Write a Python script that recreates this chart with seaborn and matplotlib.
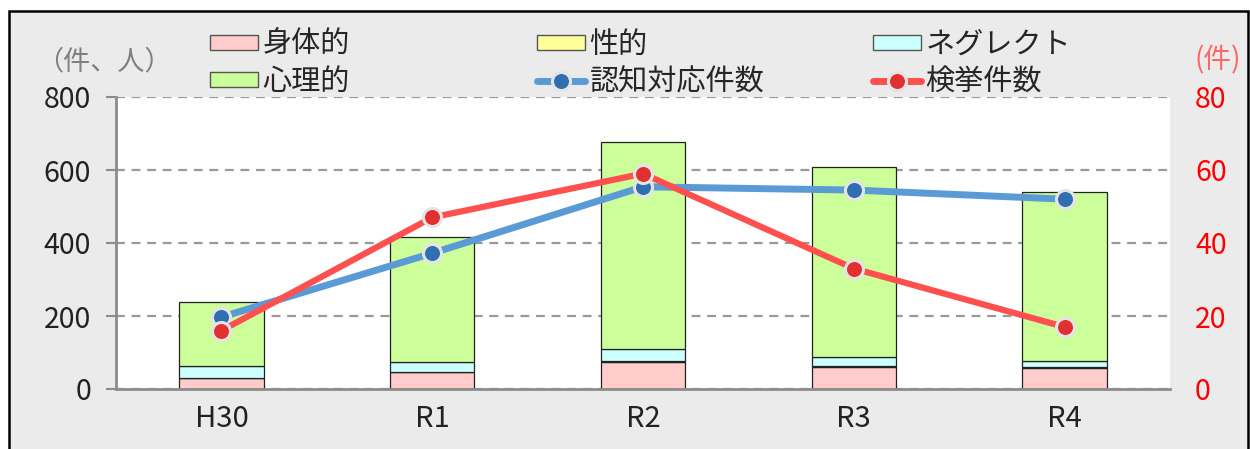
import matplotlib
matplotlib.use('Agg')
import matplotlib.pyplot as plt
import matplotlib.patches as mpatches
from matplotlib.lines import Line2D
import numpy as np
import seaborn as sns

# data
years = ['H30', 'R1', 'R2', 'R3', 'R4']
physical = [29, 46, 73, 59, 58]      # 身体的
sexual = [1, 1, 3, 4, 1]             # 性的
neglect = [32, 28, 33, 26, 17]       # ネグレクト
psych = [176, 341, 567, 518, 463]    # 心理的
ninchi = [197, 372, 554, 545, 520]   # 認知対応件数 (left axis)
kenkyo = [16, 47, 59, 33, 17]        # 検挙件数 (right axis)

sns.set_style('white')
plt.rcParams['font.family'] = ['Noto Sans CJK JP', 'DejaVu Sans']

W, H = 1250, 449
fig = plt.figure(figsize=(W / 100, H / 100), dpi=100)
fig.patch.set_facecolor('white')

# gray chart area with black frame
frame = mpatches.Rectangle((9 / W, -0.05), (1248 - 9) / W, 1.05 - 10.5 / H,
                           transform=fig.transFigure, facecolor='#EBEBEB',
                           edgecolor='black', lw=1.8, zorder=-10)
fig.patches.append(frame)

# title, cut off at the very top like in the source image
fig.text(40 / W, 1 - 3 / H, '児童虐待事件の認知・検挙状況', fontsize=24,
         ha='left', va='bottom', color='black')

ax = fig.add_axes([116 / W, 60 / H, (1170 - 116) / W, (389 - 97) / H])
ax.set_facecolor('white')

x = np.arange(len(years))
cols = {'身体的': '#FFCCCC', '性的': '#FFFF99', 'ネグレクト': '#CCFFFF', '心理的': '#CCFF99'}
bottom = np.zeros(len(years))
for name, vals in [('身体的', physical), ('性的', sexual), ('ネグレクト', neglect), ('心理的', psych)]:
    ax.bar(x, vals, width=0.4, bottom=bottom, color=cols[name], edgecolor='#222222',
           lw=0.9, zorder=2)
    bottom += np.array(vals)

blue = '#5B9BD5'
red = '#FF5050'
sns.lineplot(x=x, y=ninchi, ax=ax, color=blue, lw=5, marker='o', markersize=13,
             markerfacecolor='#2F6EAF', markeredgecolor='#E4E4E4', markeredgewidth=2.2,
             zorder=4)

ax.set_xlim(-0.5, 4.5)
ax.set_ylim(0, 800)
ax.set_yticks(range(0, 801, 200))
ax.set_xticks(x)
ax.set_xticklabels(years)
ax.set_xticks(np.arange(-0.5, 4.6, 1), minor=True)
ax.yaxis.grid(True, ls=(0, (4, 3)), color='#999999', lw=1.6, zorder=0)
ax.set_axisbelow(True)
for s in ['top', 'right']:
    ax.spines[s].set_visible(False)
for s in ['left', 'bottom']:
    ax.spines[s].set_color('#8C8C8C')
    ax.spines[s].set_linewidth(2)
ax.tick_params(axis='y', direction='out', length=7, width=1.5, color='#8C8C8C',
               labelsize=20.5, labelcolor='#222222', pad=11)
ax.tick_params(axis='x', which='major', length=0, labelsize=21, labelcolor='#222222', pad=11)
ax.tick_params(axis='x', which='minor', direction='out', length=6, width=1.5, color='#8C8C8C')

ax2 = ax.twinx()
sns.lineplot(x=x, y=kenkyo, ax=ax2, color=red, lw=4.5, marker='o', markersize=13,
             markerfacecolor='#E03030', markeredgecolor='#E4E4E4', markeredgewidth=2.2)
ax2.set_ylim(0, 80)
ax2.set_yticks(range(0, 81, 20))
for s in ax2.spines.values():
    s.set_visible(False)
ax2.tick_params(axis='y', length=0, labelsize=20.5, labelcolor='#FF0000', pad=18)
ax.set_xlabel('')
ax.set_ylabel('')
ax2.set_ylabel('')

# unit labels
fig.text(36 / W, 1 - 62 / H, '（件、人）', fontsize=19.5, color='#7F7F7F', ha='left', va='center')
fig.text(1218 / W, 1 - 60 / H, '(件)', fontsize=20, color='#FF6666', ha='center', va='center')

# legend, three columns placed separately
def patch(c):
    return mpatches.Patch(facecolor=c, edgecolor='#555555', lw=1)

def line(c, fc):
    return Line2D([], [], color=c, lw=5, marker='o', markersize=13, markerfacecolor=fc,
                  markeredgecolor='#E4E4E4', markeredgewidth=2.2)

groups = [
    (210, [patch(cols['身体的']), patch(cols['心理的'])], ['身体的', '心理的']),
    (537, [patch(cols['性的']), line(blue, '#2F6EAF')], ['性的', '認知対応件数']),
    (873, [patch(cols['ネグレクト']), line(red, '#E03030')], ['ネグレクト', '検挙件数']),
]
for left, hs, ls in groups:
    fig.legend(hs, ls, loc='upper left', bbox_to_anchor=(left / W, 1 - 30 / H),
               frameon=False, fontsize=21, handlelength=1.65, handleheight=0.42,
               handletextpad=0.15, labelspacing=0.25, borderpad=0, borderaxespad=0)

fig.savefig('out.png', dpi=100, facecolor=fig.get_facecolor())
